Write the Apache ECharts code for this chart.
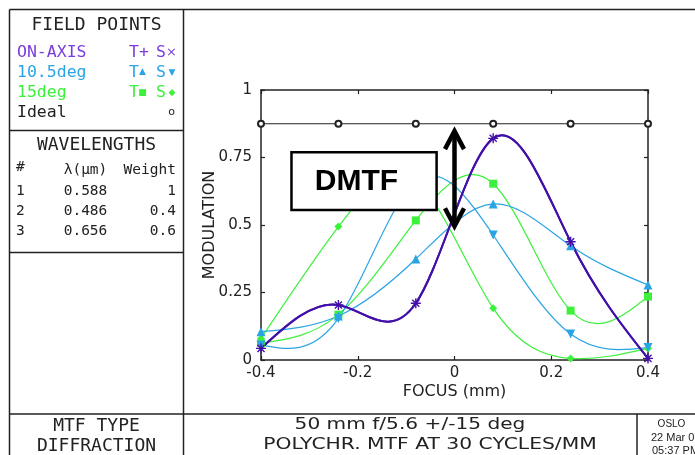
<!DOCTYPE html>
<html><head><meta charset="utf-8">
<script src="https://cdn.jsdelivr.net/npm/echarts@6/dist/echarts.min.js"></script>
<style>html,body{margin:0;padding:0;background:#fff;overflow:hidden}#c{width:695px;height:455px}</style>
</head><body><div id="c"></div>
<script>
// ---- data ----
const focus    = [-0.4, -0.24, -0.08, 0.08, 0.24, 0.4];
const onAxisT  = [0.043, 0.204, 0.210, 0.821, 0.438, 0.006];
const onAxisS  = [0.043, 0.204, 0.210, 0.821, 0.438, 0.006];
const deg10T   = [0.105, 0.163, 0.374, 0.578, 0.423, 0.278];
const deg10S   = [0.056, 0.154, 0.660, 0.463, 0.096, 0.046];
const deg15T   = [0.062, 0.168, 0.517, 0.653, 0.183, 0.235];
const deg15S   = [0.080, 0.494, 0.660, 0.192, 0.006, 0.043];
const idealMTF = [0.875, 0.875, 0.875, 0.875, 0.875, 0.875];
const xTickLabels = ['-0.4', '-0.2', '0', '0.2', '0.4'];
const yTickLabels = ['0', '0.25', '0.5', '0.75', '1'];
const wlIndex  = ['1', '2', '3'];
const wlLambda = ['0.588', '0.486', '0.656'];
const wlWeight = ['1', '0.4', '0.6'];

// ---- styles ----
const PURPLE = '#4210a8', PURPLE_TXT = '#7a3edc';
const BLUE = '#2aa4e4', GREEN = '#3cf03c', INK = '#222';
const MONO = '"DejaVu Sans Mono", monospace';
const SANS = '"DejaVu Sans", sans-serif';
const PLUS = 'path://M4.3,0H5.7V10H4.3ZM0,4.3H10V5.7H0Z';

function pairs(ys) { return focus.map((x, i) => [x, ys[i]]); }

// slopes of a natural cubic spline through the data (used only to shape the drawn path)
function splineSlopes(xs, ys) {
  const n = xs.length, h = [], M = new Array(n).fill(0);
  for (let i = 0; i < n - 1; i++) h.push(xs[i + 1] - xs[i]);
  const a = [], b = [], c = [], d = [];
  for (let i = 1; i < n - 1; i++) {
    a.push(h[i - 1]); b.push(2 * (h[i - 1] + h[i])); c.push(h[i]);
    d.push(6 * ((ys[i + 1] - ys[i]) / h[i] - (ys[i] - ys[i - 1]) / h[i - 1]));
  }
  const m = b.length;
  for (let i = 1; i < m; i++) { const w = a[i] / b[i - 1]; b[i] -= w * c[i - 1]; d[i] -= w * d[i - 1]; }
  const sol = new Array(m);
  for (let i = m - 1; i >= 0; i--) sol[i] = (d[i] - (i < m - 1 ? c[i] * sol[i + 1] : 0)) / b[i];
  for (let i = 0; i < m; i++) M[i + 1] = sol[i];
  const s = [];
  for (let i = 0; i < n - 1; i++) s.push((ys[i + 1] - ys[i]) / h[i] - h[i] * (2 * M[i] + M[i + 1]) / 6);
  s.push((ys[n - 1] - ys[n - 2]) / h[n - 2] + h[n - 2] * (M[n - 2] + 2 * M[n - 1]) / 6);
  return s;
}

function splineSeries(name, ys, color, width) {
  const sl = splineSlopes(focus, ys);
  return {
    name, type: 'custom', data: pairs(ys), clip: true, silent: true,
    renderItem: function (params, api) {
      const i = params.dataIndex;
      if (i >= focus.length - 1) return null;
      const hh = focus[i + 1] - focus[i];
      const p0 = api.coord([focus[i], ys[i]]);
      const c1 = api.coord([focus[i] + hh / 3, ys[i] + sl[i] * hh / 3]);
      const c2 = api.coord([focus[i + 1] - hh / 3, ys[i + 1] - sl[i + 1] * hh / 3]);
      const p3 = api.coord([focus[i + 1], ys[i + 1]]);
      return {
        type: 'bezierCurve',
        shape: { x1: p0[0], y1: p0[1], cpx1: c1[0], cpy1: c1[1], cpx2: c2[0], cpy2: c2[1], x2: p3[0], y2: p3[1] },
        style: { stroke: color, lineWidth: width || 1.2, fill: null }
      };
    }
  };
}
function markerSeries(name, ys, color, symbol, size, rot) {
  return {
    name: name + ' markers', type: 'scatter', data: pairs(ys), silent: true,
    symbol, symbolSize: size, symbolRotate: rot || 0,
    itemStyle: { color, borderWidth: 0, opacity: 1 }
  };
}

const chart = echarts.init(document.getElementById('c'), null, { renderer: 'canvas' });
const axisCommon = {
  type: 'value', min: -0.4, max: 0.4, interval: 0.2,
  axisLine: { show: true, onZero: false, lineStyle: { color: INK, width: 1.5 } },
  axisTick: { show: true, inside: true, length: 4, lineStyle: { color: INK, width: 1.2 } },
  splitLine: { show: false }
};
const option = {
  backgroundColor: '#fff',
  animation: false,
  grid: { left: 261, top: 90, width: 387, height: 270, containLabel: false },
  xAxis: [
    Object.assign({}, axisCommon, {
      position: 'bottom',
      axisLabel: { color: INK, fontFamily: SANS, fontSize: 15, margin: 6,
        formatter: v => xTickLabels[Math.round((v + 0.4) / 0.2)] },
      name: 'FOCUS (mm)', nameLocation: 'middle', nameGap: 24, nameMoveOverlap: false,
      nameTextStyle: { color: INK, fontFamily: SANS, fontSize: 16 }
    }),
    Object.assign({}, axisCommon, { position: 'top', axisLabel: { show: false } })
  ],
  yAxis: [
    Object.assign({}, axisCommon, {
      min: 0, max: 1, interval: 0.25, position: 'left',
      axisLabel: { color: INK, fontFamily: SANS, fontSize: 15, margin: 9,
        formatter: v => yTickLabels[Math.round(v / 0.25)] },
      name: 'MODULATION', nameLocation: 'middle', nameGap: 43, nameMoveOverlap: false,
      nameTextStyle: { color: INK, fontFamily: SANS, fontSize: 16 }
    }),
    Object.assign({}, axisCommon, { min: 0, max: 1, interval: 0.25, position: 'right', axisLabel: { show: false } })
  ],
  series: [
    { name: 'Ideal', type: 'line', data: pairs(idealMTF), symbol: 'emptyCircle', symbolSize: 6,
      lineStyle: { color: INK, width: 1 }, itemStyle: { color: INK, borderColor: INK, borderWidth: 1 }, silent: true },
    splineSeries('15deg S', deg15S, GREEN),
    markerSeries('15deg S', deg15S, GREEN, 'diamond', 8),
    splineSeries('15deg T', deg15T, GREEN),
    markerSeries('15deg T', deg15T, GREEN, 'rect', 8),
    splineSeries('10.5deg S', deg10S, BLUE),
    markerSeries('10.5deg S', deg10S, BLUE, 'triangle', 9, 180),
    splineSeries('10.5deg T', deg10T, BLUE),
    markerSeries('10.5deg T', deg10T, BLUE, 'triangle', 9),
    splineSeries('ON-AXIS S', onAxisS, PURPLE, 2),
    markerSeries('ON-AXIS S', onAxisS, PURPLE, PLUS, 10, 45),
    splineSeries('ON-AXIS T', onAxisT, PURPLE, 2),
    markerSeries('ON-AXIS T', onAxisT, PURPLE, PLUS, 10)
  ]
};
chart.setOption(option);

// ---- frame, legend panel and annotations ----
function line(x1, y1, x2, y2, w) {
  return { type: 'line', silent: true, shape: { x1, y1, x2, y2 }, style: { stroke: INK, lineWidth: w || 1.5 }, z: 10 };
}
function text(str, x, y, font, fill, align, sx) {
  return { type: 'text', silent: true, x, y, scaleX: sx || 1, z: 10,
    style: { text: str, font, fill: fill || INK, align: align || 'left', textAlign: align || 'left',
      verticalAlign: 'middle', textVerticalAlign: 'middle' } };
}
const g = [];
g.push(line(9.5, 9.5, 695, 9.5));
g.push(line(9.5, 9.5, 9.5, 455));
g.push(line(183.5, 9.5, 183.5, 455));
g.push(line(9.5, 130.5, 183.5, 130.5));
g.push(line(9.5, 252.5, 183.5, 252.5));
g.push(line(9.5, 414, 695, 414));
g.push(line(637, 414, 637, 455));
// field points
g.push(text('FIELD POINTS', 96.5, 25.5, '18px ' + MONO, INK, 'center'));
g.push(text('ON-AXIS', 17, 52.5, '16.5px ' + MONO, PURPLE_TXT));
g.push(text('T+', 129, 52.5, '16.5px ' + MONO, PURPLE_TXT));
g.push(text('S', 156, 52.5, '16.5px ' + MONO, PURPLE_TXT));
g.push(text('\u00d7', 171.5, 52.5, '13px ' + SANS, PURPLE_TXT, 'center'));
g.push(text('10.5deg', 17, 73, '16.5px ' + MONO, BLUE));
g.push(text('T', 129, 73, '16.5px ' + MONO, BLUE));
g.push(text('\u25b2', 142.5, 72, '9px ' + SANS, BLUE, 'center'));
g.push(text('S', 156, 73, '16.5px ' + MONO, BLUE));
g.push(text('\u25bc', 172, 73, '9px ' + SANS, BLUE, 'center'));
g.push(text('15deg', 17, 93, '16.5px ' + MONO, GREEN));
g.push(text('T', 129, 93, '16.5px ' + MONO, GREEN));
g.push(text('\u25a0', 142.5, 92.5, '9px ' + SANS, GREEN, 'center'));
g.push(text('S', 156, 93, '16.5px ' + MONO, GREEN));
g.push(text('\u25c6', 172, 92.5, '9px ' + SANS, GREEN, 'center'));
g.push(text('Ideal', 17, 113, '16.5px ' + MONO, INK));
g.push(text('o', 171.5, 112, '11px ' + SANS, INK, 'center'));
// wavelengths
g.push(text('WAVELENGTHS', 96.5, 145, '18px ' + MONO, INK, 'center'));
g.push(text('#', 16, 167, '14.5px ' + MONO, INK));
g.push(text('\u03bb(\u03bcm)', 85.5, 170, '14.5px ' + MONO, INK, 'center'));
g.push(text('Weight', 176, 170, '14.5px ' + MONO, INK, 'right'));
wlIndex.forEach((s, i) => {
  const y = 191.5 + i * 20;
  g.push(text(s, 16, y, '14.5px ' + MONO, INK));
  g.push(text(wlLambda[i], 85.5, y, '14.5px ' + MONO, INK, 'center'));
  g.push(text(wlWeight[i], 176, y, '14.5px ' + MONO, INK, 'right'));
});
// bottom title block
g.push(text('MTF TYPE', 96.5, 426.5, '18px ' + MONO, INK, 'center'));
g.push(text('DIFFRACTION', 96.5, 446, '18px ' + MONO, INK, 'center'));
g.push(text('50 mm f/5.6 +/-15 deg', 410, 424.5, '16.5px ' + SANS, INK, 'center', 1.22));
g.push(text('POLYCHR. MTF AT 30 CYCLES/MM', 430, 444.5, '16.5px ' + SANS, INK, 'center', 1.23));
g.push(text('OSLO', 671.5, 424, '10px "Liberation Sans", sans-serif', INK, 'center'));
g.push(text('22 Mar 0', 651, 437.5, '11px "Liberation Sans", sans-serif', INK));
g.push(text('05:37 PM', 652, 450.5, '11px "Liberation Sans", sans-serif', INK));

// DMTF box (anchored in data space)
const b1 = chart.convertToPixel({ gridIndex: 0 }, [-0.337, 0.769]);
const b2 = chart.convertToPixel({ gridIndex: 0 }, [-0.037, 0.556]);
g.push({ type: 'rect', silent: true, z: 20,
  shape: { x: b1[0], y: b1[1], width: b2[0] - b1[0], height: b2[1] - b1[1] },
  style: { fill: '#fff', stroke: '#000', lineWidth: 2.5 } });
g.push(Object.assign(text('DMTF', b1[0] + 65, (b1[1] + b2[1]) / 2 + 1, 'bold 30px "Liberation Sans", Arial, sans-serif', '#000', 'center'), { z: 21 }));

// double-headed arrow at focus 0
const aTop = chart.convertToPixel({ gridIndex: 0 }, [0, 0.855]);
const aBot = chart.convertToPixel({ gridIndex: 0 }, [0, 0.488]);
const ax = aTop[0];
const arrowStyle = { stroke: '#000', lineWidth: 4.5, fill: null, lineJoin: 'miter' };
g.push({ type: 'line', silent: true, z: 20, shape: { x1: ax, y1: aTop[1] + 2, x2: ax, y2: aBot[1] - 2 }, style: arrowStyle });
g.push({ type: 'polyline', silent: true, z: 20, shape: { points: [[ax - 9.5, aTop[1] + 20], [ax, aTop[1] + 2], [ax + 9.5, aTop[1] + 20]] }, style: arrowStyle });
g.push({ type: 'polyline', silent: true, z: 20, shape: { points: [[ax - 9.5, aBot[1] - 20], [ax, aBot[1] - 2], [ax + 9.5, aBot[1] - 20]] }, style: arrowStyle });

chart.setOption({ graphic: g });
</script>
</body></html>
